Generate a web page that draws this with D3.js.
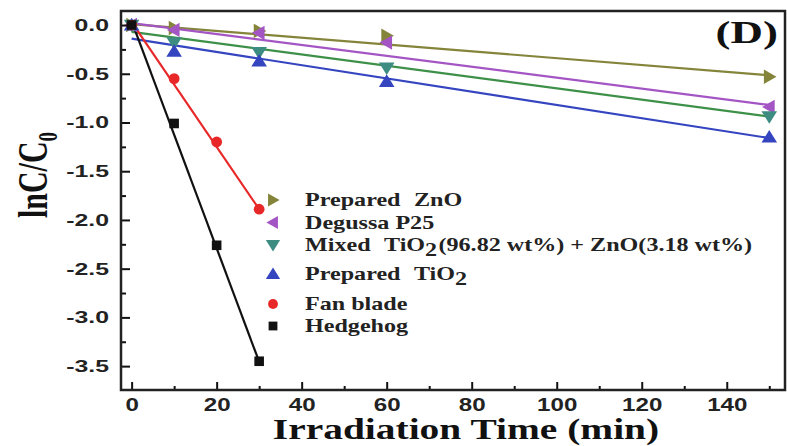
<!DOCTYPE html>
<html><head><meta charset="utf-8">
<script src="https://cdn.jsdelivr.net/npm/d3@7"></script>
<style>body{margin:0;background:#fff}svg{display:block}</style>
</head><body>
<svg id="c" width="787" height="446"></svg>
<script>
// ---- data ----
const seriesNames = ["Prepared  ZnO","Degussa P25","Mixed  TiO2(96.82 wt%) + ZnO(3.18 wt%)","Prepared  TiO2","Fan blade","Hedgehog"];
const seriesColors = ["#84843a","#a455c4","#3d8c82","#3545c0","#e82828","#111111"];
const lineColors   = ["#84843a","#a455c4","#3d9048","#3545c0","#e82828","#111111"];
const seriesSymbols = ["right","left","down","up","circle","square"];
const timesLong = [0,10,30,60,150];
const timesShort = [0,10,20,30];
const znoValues   = [0,-0.03,-0.06,-0.11,-0.53];
const p25Values   = [0,-0.05,-0.08,-0.18,-0.84];
const mixedValues = [0,-0.18,-0.28,-0.44,-0.94];
const tio2Values  = [0,-0.27,-0.37,-0.58,-1.15];
const fanValues   = [0,-0.55,-1.20,-1.89];
const hedgeValues = [0,-1.01,-2.26,-3.45];
// fitted lines (intercept, slope)
const fitIntercepts = [0.01,0.02,-0.07,-0.14,0.03,0.04];
const fitSlopes     = [-0.0035,-0.0056,-0.0058,-0.0068,-0.0640,-0.1165];
const xTicks = [0,20,40,60,80,100,120,140];
const xMinor = [10,30,50,70,90,110,130,150];
const yTicks = [0,-0.5,-1,-1.5,-2,-2.5,-3,-3.5];
const yMinor = [-0.25,-0.75,-1.25,-1.75,-2.25,-2.75,-3.25];

const seriesX = [timesLong,timesLong,timesLong,timesLong,timesShort,timesShort];
const seriesY = [znoValues,p25Values,mixedValues,tio2Values,fanValues,hedgeValues];

// ---- layout ----
const L=121,R=785,T=11,B=390;
const SX=1.38; // horizontal stretch of the reference's text
const svg=d3.select("#c");
const x=d3.scaleLinear().domain([-2.5,153.7]).range([L,R]);
const y=d3.scaleLinear().domain([-3.745,0.144]).range([B,T]);

const tickFont="'Liberation Sans',Arial,sans-serif";
const serif="'Liberation Serif','Times New Roman',serif";

// lines
seriesNames.forEach((n,i)=>{
  const xs=seriesX[i];
  const x0=xs[0], x1=xs[xs.length-1];
  svg.append("line")
    .attr("x1",x(x0)).attr("y1",y(fitIntercepts[i]+fitSlopes[i]*x0))
    .attr("x2",x(x1)).attr("y2",y(fitIntercepts[i]+fitSlopes[i]*x1))
    .attr("stroke",lineColors[i]).attr("stroke-width",2.2);
});

function symbolPath(sym,s){
  switch(sym){
    case "up": return `M0,${-s*0.6}L${s*0.65},${s*0.45}L${-s*0.65},${s*0.45}Z`;
    case "down": return `M0,${s*0.6}L${s*0.65},${-s*0.45}L${-s*0.65},${-s*0.45}Z`;
    case "right": return `M${s*0.6},0L${-s*0.45},${s*0.6}L${-s*0.45},${-s*0.6}Z`;
    case "left": return `M${-s*0.6},0L${s*0.45},${s*0.6}L${s*0.45},${-s*0.6}Z`;
    case "square": return `M${-s*0.4},${-s*0.4}h${s*0.8}v${s*0.8}h${-s*0.8}Z`;
    case "circle": {const r=s*0.45;return `M${r},0A${r},${r} 0 1,1 ${-r},0A${r},${r} 0 1,1 ${r},0Z`;}
  }
}
// markers
seriesNames.forEach((n,i)=>{
  svg.append("g").selectAll("path").data(seriesX[i].map((t,j)=>[t,seriesY[i][j]]))
    .join("path").attr("d",symbolPath(seriesSymbols[i],12))
    .attr("transform",d=>`translate(${x(d[0])},${y(d[1])})`)
    .attr("fill",seriesColors[i]);
});

// axes
const ax=svg.append("g").attr("transform",`translate(0,${B})`)
  .call(d3.axisBottom(x).tickValues(xTicks).tickSize(-8).tickPadding(9).tickFormat(d3.format("d")));
const axm=svg.append("g").attr("transform",`translate(0,${B})`)
  .call(d3.axisBottom(x).tickValues(xMinor).tickSize(-4).tickFormat(""));
const ay=svg.append("g").attr("transform",`translate(${L},0)`)
  .call(d3.axisLeft(y).tickValues(yTicks).tickSize(-9).tickPadding(12).tickFormat(d=>d3.format(".1f")(d).replace("−","-")));
const aym=svg.append("g").attr("transform",`translate(${L},0)`)
  .call(d3.axisLeft(y).tickValues(yMinor).tickSize(-5).tickFormat(""));
[ax,axm,ay,aym].forEach(g=>{
  g.select(".domain").remove();
  g.selectAll(".tick line").attr("stroke","#111").attr("stroke-width",2);
  g.selectAll("text").attr("font-family",tickFont).attr("font-weight","bold").attr("font-size",17).attr("fill","#222");
});
ax.selectAll(".tick text").attr("font-size",17.5).attr("transform",`scale(${SX},1)`);
ay.selectAll(".tick text").each(function(){
  const t=d3.select(this); const xx=+t.attr("x");
  t.attr("x",0).attr("transform",`translate(${xx},0) scale(${SX+0.08},1)`);
});
// frame
svg.append("rect").attr("x",L).attr("y",T).attr("width",R-L).attr("height",B-T)
  .attr("fill","none").attr("stroke","#222").attr("stroke-width",2.5);

// (D)
svg.append("text").attr("transform",`translate(778,43) scale(1.45,1)`).attr("text-anchor","end")
  .attr("font-family",serif).attr("font-weight","bold").attr("font-size",31).attr("fill","#111").text("(D)");

// axis titles
svg.append("text").attr("transform",`translate(466,439) scale(1.36,1)`).attr("text-anchor","middle")
  .attr("font-family",serif).attr("font-weight","bold").attr("font-size",29).attr("fill","#111")
  .text("Irradiation Time (min)");
const yl=svg.append("text").attr("transform",`translate(47,175) scale(1.4,1) rotate(-90)`).attr("text-anchor","middle")
  .attr("font-family",serif).attr("font-weight","bold").attr("font-size",30).attr("fill","#111");
yl.append("tspan").text("lnC/C");
yl.append("tspan").attr("font-size",19).attr("dy",7).text("0");

// legend
const legY=[200,222.5,245,274,304,326];
seriesNames.forEach((n,i)=>{
  svg.append("path").attr("d",symbolPath(seriesSymbols[i],11))
    .attr("transform",`translate(273,${legY[i]})`).attr("fill",seriesColors[i]);
  const t=svg.append("text").attr("transform",`translate(305,${legY[i]+6}) scale(1.34,1)`)
    .attr("font-family",serif).attr("font-weight","bold").attr("font-size",18).attr("fill","#222");
  // split on double spaces -> explicit gap, and on "2" after TiO -> subscript
  const parts=n.split("  ");
  parts.forEach((p,k)=>{
    const dx = k>0 ? 10 : 0;
    const m=p.match(/^(.*TiO)2(.*)$/);
    if(m){
      t.append("tspan").attr("dx",dx).text(m[1]);
      t.append("tspan").attr("dy",5).text("2");
      if(m[2]) t.append("tspan").attr("dy",-5).attr("dx",1).text(m[2].replace(/ /g,"\u00a0"));
    } else t.append("tspan").attr("dx",dx).text(p.replace(/ /g,"\u00a0"));
  });
});
</script>
</body></html>
